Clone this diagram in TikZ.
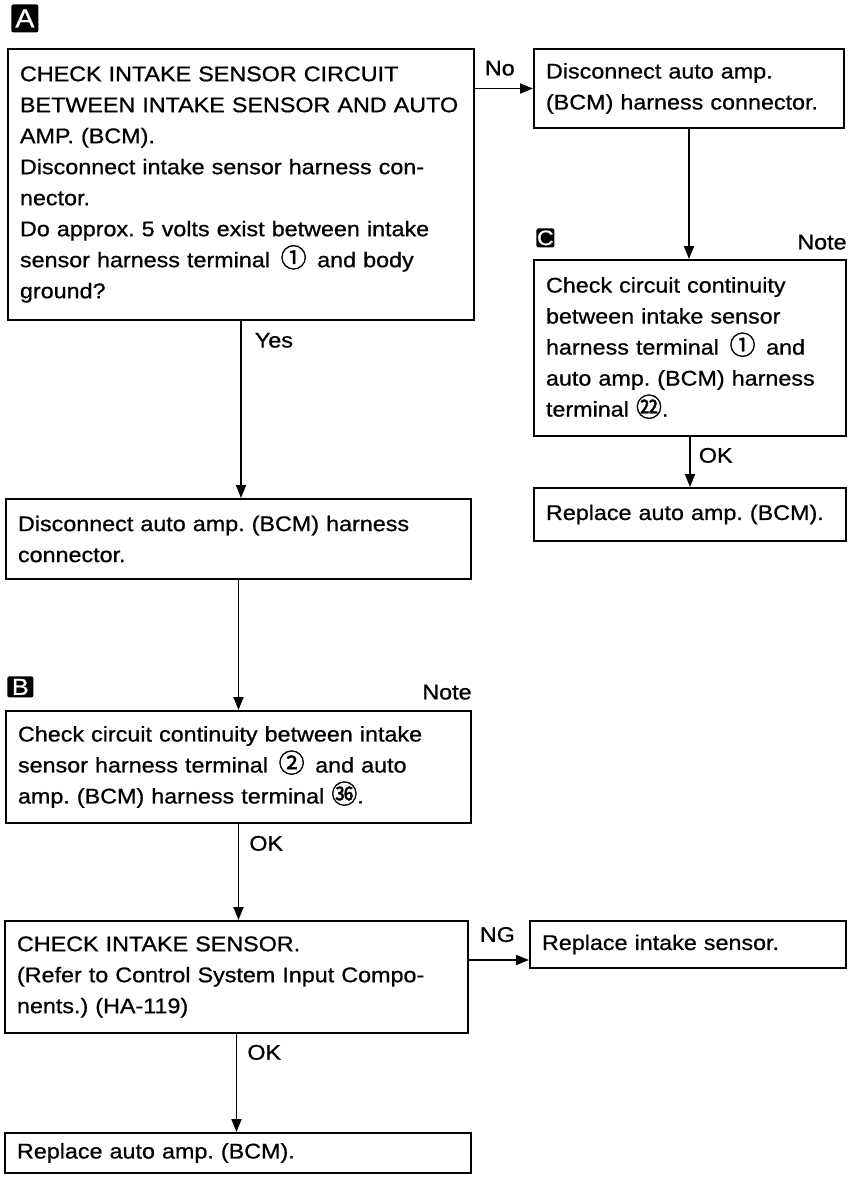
\documentclass[tikz,border=0pt]{standalone}
\usepackage{fontspec}
\setmainfont{Liberation Sans}[FakeStretch=1.1,FakeBold=0.8]
\newfontfamily\cjk{Noto Sans CJK SC}[FakeBold=1.5]
\usepackage{tikz}
\usetikzlibrary{arrows.meta}
\frenchspacing

\tikzstyle{stepbox} = [rectangle,
draw=black,
line width=1pt,
align=left,
inner xsep=6pt,
inner ysep=2pt,
anchor=north west,
font=\fontsize{10.6}{15.5}\selectfont]
\tikzstyle{marker} = [rectangle,
rounded corners=1pt,
fill=black,
text=white,
inner sep=0pt,
anchor=north west]
\tikzstyle{lbl} = [inner sep=0pt, font=\fontsize{10.6}{12}\selectfont]
\tikzstyle{arrow} = [line width=0.9pt,-{Triangle[length=6.5pt,width=5pt]}]

% terminal numbers in a circle
\newcommand{\circnum}[1]{{\cjk\fontsize{13}{13}\selectfont #1}}

\begin{document}
\begin{tikzpicture}[x=0.5pt,y=-0.5pt]
\useasboundingbox (0,0) rectangle (850,1180);

\node (markA) [marker, minimum width=13.5pt, minimum height=14pt, font=\fontsize{13}{13}\selectfont] at (11,4) {A};
\node (markB) [marker, minimum width=13pt, minimum height=10.5pt, font=\fontsize{11.5}{11.5}\selectfont] at (7,676) {B};
\node (markC) [marker, minimum width=9pt, minimum height=9.5pt, font=\fontsize{10.5}{10.5}\selectfont] at (536,228) {C};

\node (checkA) [stepbox, text width=221pt, minimum height=135.5pt] at (7,48) {CHECK INTAKE SENSOR CIRCUIT\\
BETWEEN INTAKE SENSOR AND AUTO\\
AMP. (BCM).\\
Disconnect intake sensor harness con-\\
nector.\\
Do approx. 5 volts exist between intake\\
sensor harness terminal\ \,\circnum{①}\ \,and body\\
ground?};
\node (discR) [stepbox, text width=143pt, minimum height=39.5pt] at (533,48) {Disconnect auto amp.\\
(BCM) harness connector.};
\node (checkC) [stepbox, text width=144pt, minimum height=88pt] at (533,259) {Check circuit continuity\\
between intake sensor\\
harness terminal\ \,\circnum{①}\ \,and\\
auto amp. (BCM) harness\\
terminal \circnum{㉒}.};
\node (repC) [stepbox, text width=144pt, minimum height=26.5pt] at (533,487) {Replace auto amp. (BCM).};
\node (discL) [stepbox, text width=220.5pt, minimum height=40pt] at (5,498) {Disconnect auto amp. (BCM) harness\\
connector.};
\node (checkB) [stepbox, text width=220.5pt, minimum height=56pt] at (5,710) {Check circuit continuity between intake\\
sensor harness terminal\ \,\circnum{②}\ \,and auto\\
amp. (BCM) harness terminal \circnum{㊱}.};
\node (checkInt) [stepbox, text width=219.5pt, minimum height=56pt] at (4,920) {CHECK INTAKE SENSOR.\\
(Refer to Control System Input Compo-\\
nents.) (HA-119)};
\node (repInt) [stepbox, text width=146pt, minimum height=23.5pt] at (529,920) {Replace intake sensor.};
\node (repAmp) [stepbox, text width=221pt, minimum height=20pt] at (4,1132) {Replace auto amp. (BCM).};

% notes above the continuity checks
\node (noteC) [lbl, anchor=south east] at ([yshift=4.5pt]checkC.north east) {Note};
\node (noteB) [lbl, anchor=south east] at ([yshift=5pt]checkB.north east) {Note};

\coordinate (ngrow) at (0,960);

\draw [arrow] (checkA.east |- discR.west) -- node[lbl, at start, anchor=south west, xshift=4.5pt, yshift=6pt] {No} (discR.west);
\draw [arrow] (discR.south) -- (discR.south |- checkC.north);
\draw [arrow] (checkC.south) -- node[lbl, at start, anchor=north west, xshift=4pt, yshift=-5pt] {OK} (checkC.south |- repC.north);
\draw [arrow] (checkA.south) -- node[lbl, at start, anchor=north west, xshift=6.5pt, yshift=-5.5pt] {Yes} (checkA.south |- discL.north);
\draw [arrow] (discL.south) -- (discL.south |- checkB.north);
\draw [arrow] (checkB.south) -- node[lbl, at start, anchor=north west, xshift=5pt, yshift=-5.5pt] {OK} (checkB.south |- checkInt.north);
\draw [arrow] (checkInt.east |- ngrow) -- node[lbl, at start, anchor=south west, xshift=5pt, yshift=8.5pt] {NG} (repInt.west |- ngrow);
\draw [arrow] (checkInt.south) -- node[lbl, at start, anchor=north west, xshift=5pt, yshift=-5pt] {OK} (checkInt.south |- repAmp.north);

\end{tikzpicture}
\end{document}
